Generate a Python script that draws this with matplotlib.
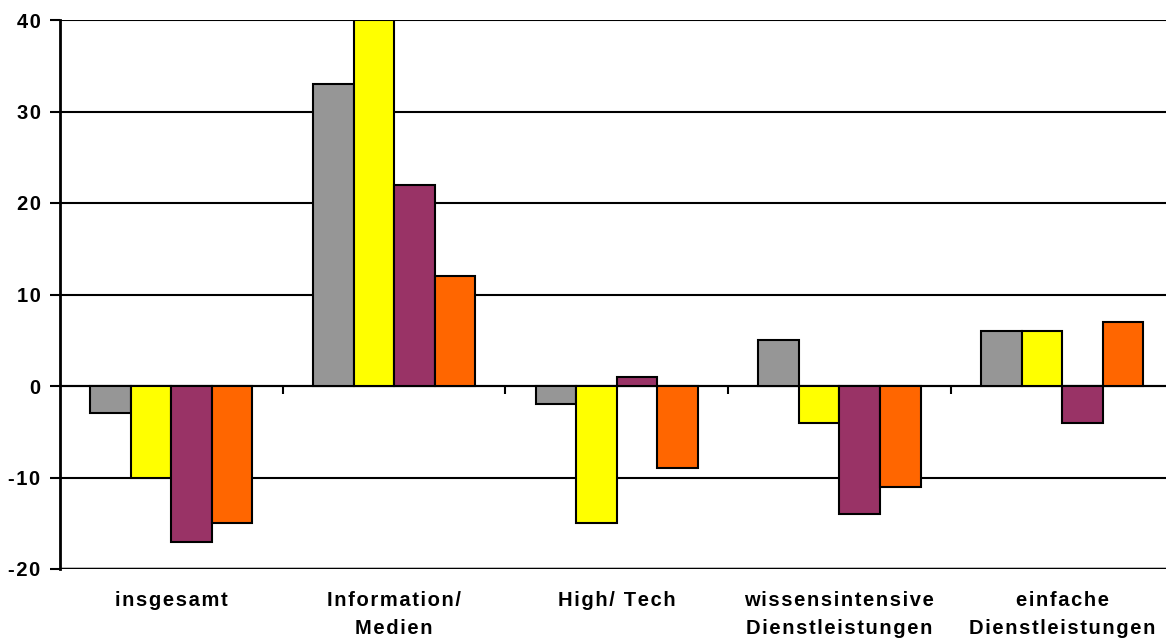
import matplotlib
matplotlib.use('Agg')
import matplotlib.pyplot as plt
import matplotlib.transforms as mtransforms
import numpy as np

plt.rcParams['font.family'] = ['Liberation Sans', 'DejaVu Sans']

# categories and series values
categories = ['insgesamt', 'Information/\nMedien', 'High/ Tech',
              'wissensintensive\nDienstleistungen', 'einfache\nDienstleistungen']
series_grau = [-3, 33, -2, 5, 6]
series_gelb = [-10, 40, -15, -4, 6]
series_lila = [-17, 22, 1, -14, -4]
series_orange = [-15, 12, -9, -11, 7]
y_ticks = [-20, -10, 0, 10, 20, 30, 40]

colors = ['#969696', '#FFFF00', '#993366', '#FF6600']
all_series = [series_grau, series_gelb, series_lila, series_orange]


def spaced(text, sep='\u200a'):
    # widen the letter spacing of each line
    return '\n'.join(sep.join(line) for line in text.split('\n'))


fig = plt.figure(figsize=(11.66, 6.41), dpi=100)
ax = fig.add_axes([60 / 1166, 72 / 641, 1113.5 / 1166, 549 / 641])

x = np.arange(len(categories))
width = 0.182
for i, (vals, col) in enumerate(zip(all_series, colors)):
    ax.bar(x + (i - 1.5) * width, vals, width, color=col,
           edgecolor='black', linewidth=1.5, zorder=3)

ax.set_xlim(-0.5, len(categories) - 0.5)
ax.set_ylim(-20, 40)
ax.set_yticks(y_ticks)
ax.set_yticklabels([spaced(str(t)) for t in y_ticks], fontsize=14.5, fontweight='bold')
ax.yaxis.grid(True, color='black', linewidth=1.5, zorder=0)
ax.set_axisbelow(True)

# category axis crosses at zero, ticks between the groups
ax.spines['bottom'].set_position(('data', 0))
ax.spines['bottom'].set_linewidth(1.5)
ax.spines['left'].set_linewidth(2)
ax.spines['top'].set_visible(False)
ax.spines['right'].set_visible(False)
ax.set_xticks(np.arange(0.5, len(categories) - 0.5, 1.0))
ax.set_xticklabels([])
ax.tick_params(axis='x', direction='out', length=6, width=1.5)
ax.tick_params(axis='y', direction='out', length=7, width=1.5, pad=7)

# heavier line at the bottom of the value range
ax.axhline(-20, color='black', linewidth=2.5, zorder=2)

trans = mtransforms.blended_transform_factory(ax.transData, ax.transAxes)
for xi, label in zip(x, categories):
    ax.text(xi, -0.04, spaced(label), transform=trans, ha='center', va='top',
            fontsize=14.5, fontweight='bold', linespacing=1.6)

fig.savefig('out.png', dpi=100)
